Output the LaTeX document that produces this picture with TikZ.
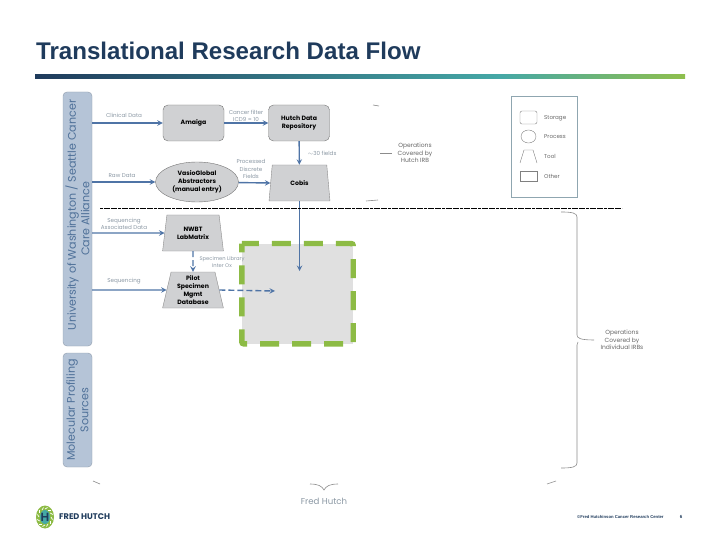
\documentclass[tikz,border=0pt]{standalone}
\usepackage{fontspec}
\setmainfont{Liberation Sans}
\newfontfamily\gothic{Poppins}
\usepackage{xcolor}
\usetikzlibrary{shapes.geometric}
\definecolor{titleblue}{HTML}{1F3B5C}
\definecolor{barteal}{HTML}{45A8A6}
\definecolor{bargreen}{HTML}{8FBF4D}
\definecolor{panelblue}{HTML}{B5C4D7}
\definecolor{paneltext}{HTML}{4F7199}
\definecolor{flowblue}{HTML}{4F74A6}
\definecolor{boxgrey}{HTML}{D0D1D3}
\definecolor{labelgrey}{HTML}{8A97A3}
\definecolor{hutchgreen}{HTML}{8DBB45}
\definecolor{legendline}{HTML}{8FA6B0}
\tikzset{
  panel/.style={draw=panelblue!80!black, fill=panelblue, rounded corners=4pt, rotate=90, minimum height=29pt, inner sep=0pt, align=center, text=paneltext, font=\gothic\fontsize{11.1}{13.5}\selectfont},
  storage/.style={draw=black!55, fill=boxgrey, rounded corners=5pt, minimum width=61pt, minimum height=36pt, inner sep=0pt, align=center, font=\gothic\bfseries\fontsize{6.2}{8}\selectfont},
  proc/.style={ellipse, draw=black!55, fill=boxgrey, minimum width=83pt, minimum height=40pt, inner sep=0pt, align=center, font=\gothic\bfseries\fontsize{6.2}{8}\selectfont},
  tool/.style={trapezium, trapezium stretches=true, trapezium left angle=78, trapezium right angle=78, draw=black!45, fill=boxgrey, minimum width=61pt, minimum height=36pt, inner sep=0pt, align=center, font=\gothic\bfseries\fontsize{6.2}{8}\selectfont},
  flow/.style={draw=flowblue, line width=1.4pt, -stealth},
  flowdash/.style={flow, dash pattern=on 6pt off 3pt},
  lab/.style={text=labelgrey, inner sep=0pt, align=center, font=\gothic\fontsize{5.6}{7.2}\selectfont},
  note/.style={text=black!60, inner sep=0pt, align=center, font=\gothic\fontsize{6}{7.6}\selectfont},
  legendtext/.style={note, anchor=west, font=\gothic\fontsize{5.6}{7.6}\selectfont},
  greendash/.style={hutchgreen, line width=5.4pt, dash pattern=on 19pt off 13pt, rounded corners=2pt},
  brace/.style={draw=black!45, line width=0.6pt},
}
\begin{document}
\begin{tikzpicture}[x=1pt, y=-1pt]
  \useasboundingbox (0,0) rectangle (720,540);
  % title and bar
  \node[anchor=base west, inner sep=0pt, text=titleblue, font=\bfseries\fontsize{24.1}{26}\selectfont] (title) at (36,60) {Translational Research Data Flow};
  \shade[left color=titleblue, right color=barteal] (35,75) rectangle (500,79);
  \shade[left color=barteal, right color=bargreen] (500,75) rectangle (685,79);
  % side panels
  \node[panel, minimum width=254pt] (uwpanel) at (77.5,219) {\hspace*{8pt}University of Washington / Seattle Cancer\\Care Alliance};
  \node[panel, minimum width=114pt] (mppanel) at (77.5,410) {Molecular Profiling\\Sources};
  % green box
  \node[fill=black!12, inner sep=0pt, minimum width=111pt, minimum height=100pt] (hidden) at (297.5,293.7) {};
  \draw[greendash, dash phase=2pt] (hidden.north west) -- (hidden.north east) -- (hidden.south east);
  \draw[greendash, dash phase=22pt] (hidden.south east) -- (hidden.south west) -- (hidden.north west);
  % nodes
  \node[storage] (amaiga) at (193.5,123) {Amaiga};
  \node[storage] (repo) at (299,123) {Hutch Data\\Repository};
  \node[proc] (vasio) at (197,182) {VasioGlobal\\Abstractors\\(manual entry)};
  \node[tool] (cobis) at (299.5,183) {Cobis};
  \node[tool] (nwbt) at (193,233) {NWBT\\LabMatrix};
  \node[tool] (pilot) at (193,290) {Pilot\\Specimen\\Mgmt\\Database};
  \coordinate (cobisend) at (299.5,271);
  \coordinate (pilotend) at (275,291);
  % connectors
  \draw[flow] (uwpanel.south |- amaiga) -- (amaiga);
  \draw[flow] (uwpanel.south |- vasio) -- (vasio);
  \draw[flow] (uwpanel.south |- nwbt) -- (nwbt.west);
  \draw[flow] (uwpanel.south |- pilot) -- (pilot.west);
  \draw[flow] (amaiga) -- (repo);
  \draw[flow] (repo) -- (cobis);
  \draw[flow] (vasio) -- (cobis.west);
  \draw[flow] (cobis) -- (cobisend);
  \draw[flowdash] (nwbt) -- (pilot);
  \draw[flowdash] (pilot.east) -- (pilotend);
  % labels
  \node[lab] (clinical) at (124,115) {Clinical Data};
  \node[lab] (rawdata) at (122,176) {Raw Data};
  \node[lab] (seqassoc) at (124,224) {Sequencing\\Associated Data};
  \node[lab] (seq) at (124,281) {Sequencing};
  \node[lab] (cancer) at (246,116) {Cancer filter\\ICD9 = 10};
  \node[lab] (fields) at (322,153) {$\sim$30 fields};
  \node[lab] (discrete) at (251,169) {Processed\\Discrete\\Fields};
  \node[lab, font=\gothic\fontsize{5.2}{7.2}\selectfont] (library) at (222,262) {Specimen Library\\Inter Ox};
  % dotted divider
  \coordinate (divleft) at (100,208);
  \coordinate (divright) at (622,208);
  \draw[line width=0.9pt, dash pattern=on 3pt off 0.6pt] (divleft) -- (divright);
  % brace fragments
  \node[note] (opshutch) at (415,153) {Operations\\Covered by\\Hutch IRB};
  \draw[brace] (373,105) -- (379,106);
  \draw[brace] (380,153) -- (392,153);
  \draw[brace] (366,201) -- (378,200);
  \node[note] (opsirb) at (622,340) {Operations\\Covered by\\Individual IRBs};
  \draw[brace] (561,212) .. controls (572,212) and (577,213) .. (577,217) -- (577,335) .. controls (577,338) and (580,340) .. (594,340);
  \draw[brace] (578,342) -- (577,345) -- (577,463) .. controls (577,467) and (572,468) .. (561,468);
  \node[lab, font=\gothic\fontsize{8.6}{10}\selectfont] (fredhutch) at (324,501) {Fred Hutch};
  \draw[brace] (310,484) .. controls (318,484) and (322,486) .. (324,490) .. controls (326,486) and (330,484) .. (338,484);
  \draw[brace] (93,481) -- (100,484);
  \draw[brace] (547,484) -- (556,481);
  % legend
  \node[draw=legendline, line width=1pt, minimum width=66pt, minimum height=101pt] (legend) at (544,147.5) {};
  \node[draw=black!50, rounded corners=2pt, minimum width=17pt, minimum height=13pt, inner sep=0pt] (legstorage) at (528.5,117.5) {};
  \node[ellipse, draw=black!50, minimum width=15pt, minimum height=13pt, inner sep=0pt] (legprocess) at (528.5,136.5) {};
  \draw[draw=black!50] (520,163) -- (524,150) -- (533,150) -- (537,163);
  \node[draw=black!50, minimum width=17pt, minimum height=10pt, inner sep=0pt] (legother) at (528.5,176) {};
  \node[legendtext] (txtstorage) at (544,118) {Storage};
  \node[legendtext] (txtprocess) at (544,137) {Process};
  \node[legendtext] (txttool) at (544,156) {Tool};
  \node[legendtext] (txtother) at (544,176) {Other};
  % footer
  \node[ellipse, fill=hutchgreen, minimum width=18pt, minimum height=23pt, inner sep=0pt] (logoball) at (45,517) {};
  \foreach \a in {0,30,...,330}
    \draw[white, line width=0.7pt] (logoball.center) ++(\a:6 and 8) -- ++(\a+60:3);
  \node[ellipse, fill=barteal, minimum width=10pt, minimum height=14pt, inner sep=0pt] (logocore) at (45,517) {};
  \node[text=titleblue, inner sep=0pt, font=\bfseries\fontsize{12}{13}\selectfont] (logoh) at (45,517) {H};
  \node[anchor=west, inner sep=0pt, text=titleblue, font=\gothic\bfseries\fontsize{8.2}{10}\selectfont] (logotext) at (59,517) {FRED HUTCH};
  \node[anchor=west, inner sep=0pt, text=titleblue, font=\bfseries\fontsize{4.2}{5}\selectfont] (copyright) at (577,517) {©Fred Hutchinson Cancer Research Center};
  \node[inner sep=0pt, text=titleblue, font=\bfseries\fontsize{4.5}{5}\selectfont] (pagenum) at (681,517) {6};
\end{tikzpicture}
\end{document}
